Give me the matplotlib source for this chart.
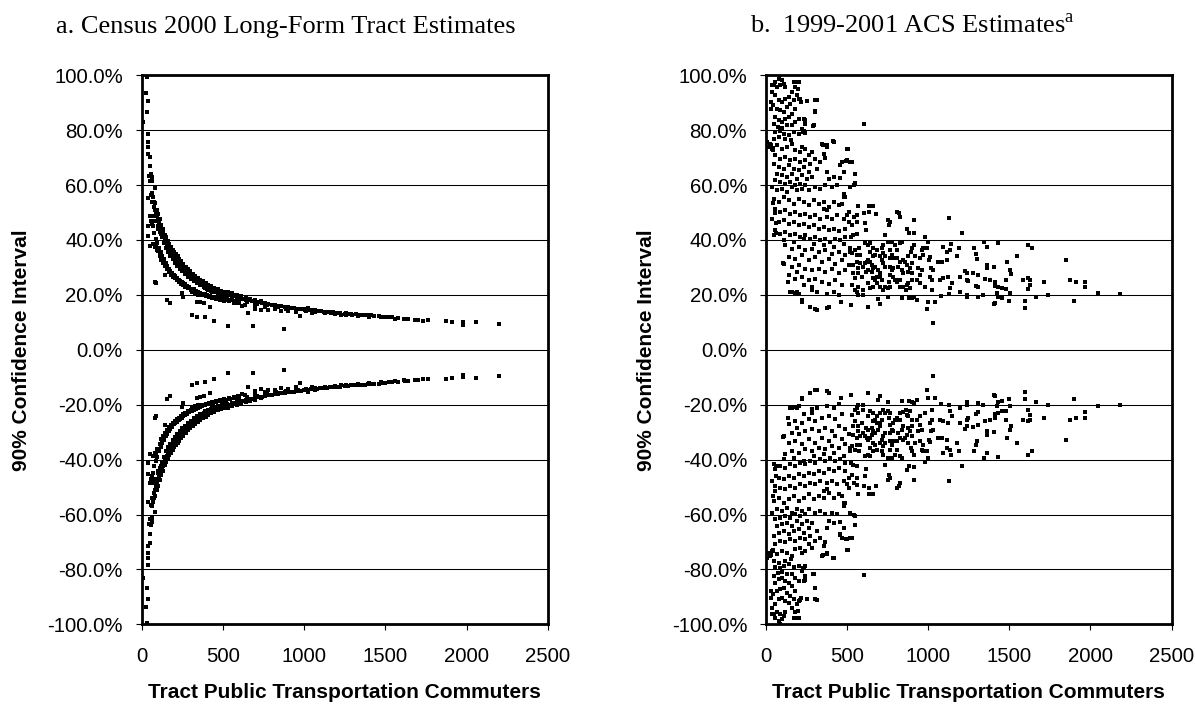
import numpy as np
import matplotlib
matplotlib.use('Agg')
import matplotlib.pyplot as plt
from matplotlib.ticker import FuncFormatter, MultipleLocator

matplotlib.rc('font', family='Liberation Sans')
matplotlib.rc('mathtext', fontset='custom', rm='Liberation Serif')

# (tract commuters, half-width of 90% CI in %) -- both panels are symmetric about 0
census_pts = [
    (32, 99.5), (28, 93.7), (38, 90.8), (36, 86.7), (11, 83.1), (38, 78.5), (42, 75.7), (42, 73.9),
    (42, 71.4), (50, 70.4), (54, 67), (46, 63.4), (56, 64), (62, 62.8), (50, 61.6), (62, 61.4),
    (38, 55.4), (60, 56.4), (80, 59), (62, 54), (83, 53.4), (78, 52.2), (93, 51), (52, 48.6),
    (73, 48.6), (93, 48.6), (83, 46.9), (99, 47.4), (42, 45.2), (62, 45.8), (103, 45), (113, 44),
    (119, 43.5), (123, 42.3), (134, 41.1), (38, 41.3), (73, 38.7), (83, 37.5), (52, 37.8), (144, 40),
    (154, 38.7), (165, 37.5), (175, 36.3), (93, 36.3), (113, 34.4), (185, 34.4), (206, 33.2), (226, 32),
    (123, 32.6), (144, 30.8), (165, 29.6), (83, 24.8), (89, 24.2), (247, 30.3), (267, 29.1), (288, 27.9),
    (185, 27.9), (206, 26.7), (226, 25.5), (144, 27.3), (308, 26.7), (329, 25.5), (349, 24.2), (370, 23.7),
    (247, 24.2), (267, 23), (288, 22.4), (154, 18.1), (175, 16.9), (390, 22.4), (410, 21.8), (431, 21.2),
    (308, 21.2), (329, 20.6), (349, 20), (247, 20.8), (257, 19.4), (451, 21.2), (472, 20.6), (492, 20.6),
    (513, 20), (533, 21.2), (554, 20.6), (339, 17.5), (359, 17.3), (386, 16.9), (421, 15.7), (308, 12.7),
    (339, 12.1), (390, 11.8), (447, 10.6), (533, 8.5), (687, 8.5), (878, 7.5), (574, 19.5), (615, 18.9),
    (656, 18.3), (697, 18.3), (738, 17.7), (574, 17.7), (636, 16.5), (656, 13.4), (697, 16.5), (759, 16.9),
    (800, 16.3), (841, 15.7), (882, 15.5), (923, 15.2), (964, 14.8), (1005, 14.6), (1066, 14.6), (1107, 14),
    (1168, 13.4), (1230, 12.8), (1292, 12.8), (779, 14.6), (738, 14.4), (861, 14), (974, 12.2), (1025, 15.2),
    (1258, 13.3), (1376, 12.7), (1495, 12.1), (1613, 11.1), (1731, 10.6), (1874, 10.6), (1909, 10.3),
    (1980, 10.0), (1980, 9.2), (2058, 10.3), (2200, 9.5),
    (65, 57), (70, 55.5), (75, 54), (85, 51), (90, 50), (95, 49), (105, 47), (110, 46), (115, 45),
    (125, 43), (130, 42.5), (135, 41.5), (145, 40), (150, 39.5), (155, 39), (165, 38), (170, 37),
    (175, 37), (185, 35.5), (190, 35), (195, 34.5), (205, 33.5), (210, 33), (215, 33), (220, 32.5),
    (235, 31.5), (240, 31), (250, 30.5), (255, 30), (265, 29.5), (270, 29), (280, 28.5), (290, 28),
    (295, 27.8), (305, 27.2), (315, 26.8), (325, 26.2), (335, 25.8), (345, 25.3), (355, 24.8), (365, 24.4),
    (375, 24), (385, 23.7), (395, 23.3), (405, 23), (415, 22.6), (425, 22.4), (435, 22.1), (445, 21.9),
    (460, 21.5), (475, 21.2), (490, 20.9), (505, 20.7), (520, 20.4), (540, 20.1), (560, 19.8), (580, 19.5),
    (595, 19.3),
    (60, 47), (70, 45), (78, 42.5), (88, 40.5), (98, 39), (108, 37), (118, 35.5), (128, 34), (138, 33),
    (148, 31.5), (158, 30.5), (168, 29.5), (178, 28.8), (188, 28), (198, 27.2), (208, 26.8), (218, 26.2),
    (228, 25.6), (238, 25.2), (248, 24.8), (258, 24.2), (270, 23.8), (282, 23.3), (295, 22.8), (310, 22.3),
    (322, 22), (335, 21.5), (348, 21.1), (360, 20.8), (375, 20.5), (390, 20.2), (405, 19.9), (420, 19.6),
    (440, 19.3), (460, 19), (480, 18.8), (500, 18.5), (520, 18.3), (545, 18), (570, 17.7), (600, 17.5),
    (620, 18.6), (640, 18.3), (660, 18), (680, 17.8), (700, 17.5), (720, 17.3), (740, 17.1), (760, 16.8),
    (780, 16.6), (800, 16.4), (820, 16.2), (840, 16), (860, 15.8), (880, 15.7), (900, 15.5), (920, 15.4),
    (940, 15.2), (960, 15), (980, 14.9), (1000, 14.7), (1020, 14.5), (1040, 14.4), (1060, 14.3), (1080, 14.1),
    (1100, 14), (1120, 13.9), (1140, 13.8), (1160, 13.7), (1180, 13.6), (1200, 13.5), (1220, 13.4),
    (1250, 13.2), (1270, 13.1), (1290, 13), (1320, 12.9), (1340, 12.8), (1360, 12.7), (1390, 12.6),
    (1410, 12.5), (1430, 12.4), (1460, 12.3), (1480, 12.1), (1520, 11.9), (1540, 11.8), (1580, 11.6),
    (1620, 11.4), (1640, 11.3), (1700, 11), (1760, 10.8),
    (620, 16), (700, 15), (760, 15.5), (820, 14.8), (900, 14.2), (950, 13.6), (1050, 13.5),
    (100, 49.5), (112, 47.5), (122, 45.5), (132, 44), (142, 42), (152, 41), (162, 39.5), (172, 38.5),
    (182, 37.5), (192, 36.5), (202, 35.5), (212, 34.8), (222, 34), (232, 33.2), (245, 32.3), (258, 31.3),
    (272, 30.2), (285, 29.3), (300, 28.6), (318, 27.6), (332, 27), (346, 26.3), (362, 25.6), (378, 25),
    (395, 24.3), (412, 23.7), (430, 23.1), (448, 22.6), (468, 22), (488, 21.5), (510, 21.2), (530, 20.8),
    (555, 20.4), (585, 20), (610, 19.5), (640, 19.1), (670, 18.6),
    (104, 44), (114, 43), (126, 41), (138, 39), (152, 37), (164, 35.5), (178, 34.2), (192, 33),
    (206, 31.8), (220, 30.6), (236, 29.6), (252, 28.6), (268, 27.6), (286, 26.6), (304, 25.8), (322, 25),
    (342, 24.2), (362, 23.5), (384, 22.9), (404, 22.2), (426, 21.6), (450, 21), (474, 20.5), (498, 20),
    (526, 19.6), (556, 19.2), (588, 18.8),
    (92, 37.5), (102, 36), (112, 34.3), (124, 33), (134, 31.5), (146, 30.4), (156, 29.3), (168, 28.3),
    (180, 27.4), (192, 26.7), (204, 26), (216, 25.3), (230, 24.7), (244, 24.1), (256, 23.5), (272, 22.9),
    (288, 22.4), (304, 21.8), (320, 21.3), (338, 20.8), (356, 20.4), (374, 20), (394, 19.6), (414, 19.3),
    (436, 18.9), (458, 18.5), (482, 18.2), (508, 17.9), (536, 17.6), (566, 17.2), (596, 16.9),
    (650, 17.3), (710, 16.8), (770, 16.2), (830, 15.5), (890, 15), (950, 14.6), (1010, 14.2), (1070, 13.8),
    (1130, 13.4), (1190, 13.1), (1260, 12.7), (1330, 12.4), (1400, 12.1), (1470, 11.8), (1560, 11.4),
    (1680, 10.9),
]

acs_pts = [
    (88, 100), (78, 98.8), (99, 98.2), (57, 97.6), (47, 96.3), (68, 95.7), (88, 96.3), (109, 97), (119, 95.7),
    (171, 97.6), (181, 95.7), (197, 95.1), (191, 92.7), (160, 93.9), (140, 92.1), (119, 91.5), (99, 90.3),
    (78, 90.9), (57, 92.7), (37, 93.9), (33, 90.3), (41, 89.1), (68, 87.8), (88, 87.2), (109, 86.6),
    (129, 88.5), (150, 89.7), (171, 90.9), (201, 91.5), (218, 90.3), (181, 87.8), (160, 86), (140, 84.8),
    (119, 84.2), (99, 83), (78, 83.6), (57, 84.8), (47, 82.4), (74, 81.2), (99, 80.8), (129, 81.8),
    (160, 81.8), (181, 83), (201, 84.2), (232, 84.2), (242, 82.4), (222, 80.6), (304, 90.9), (304, 86.9),
    (294, 81.8), (57, 79.3), (88, 79.6), (109, 78.7), (140, 78.1), (171, 79.3), (201, 78.7), (232, 79.6),
    (78, 77.5), (119, 76.9), (156, 76.3), (47, 76.9),
    (16, 73.9), (37, 73.3), (6, 75.7), (27, 75.1), (68, 74.5), (99, 73.3), (129, 73.9), (160, 75.1),
    (181, 72.7), (212, 72.1), (222, 73.9), (242, 73.3), (263, 70.9), (283, 72.1), (345, 75.1), (376, 73.9),
    (417, 75.7), (505, 73.0), (355, 71.5), (304, 69.6), (335, 68.4), (314, 66), (468, 68.4), (499, 69),
    (520, 68.4), (458, 67.2), (57, 70.9), (88, 69.6), (119, 70.2), (150, 69), (181, 69.6), (212, 68.4),
    (242, 69), (273, 67.8), (47, 67.8), (78, 66.6), (109, 66), (140, 67.2), (171, 66), (201, 65.4),
    (232, 66.6), (263, 64.8), (68, 64.2), (99, 63.6), (129, 63), (160, 64.2), (191, 62.4), (222, 63.6),
    (253, 62.4), (283, 63), (57, 61.7), (88, 61.1), (119, 60.5), (150, 61.1), (181, 59.9), (212, 60.5),
    (242, 59.9), (386, 62.4), (417, 63), (458, 62.6), (479, 64.8), (363, 69.9), (376, 64.8),
    (37, 59.3), (68, 58.1), (99, 58.7), (129, 57.5), (160, 59.3), (191, 58.1), (222, 58.7), (263, 58.1),
    (304, 59.3), (335, 58.7), (366, 59.9), (407, 59.3), (437, 59.9), (479, 56.9), (489, 55.7),
    (47, 55.1), (78, 53.9), (109, 55.7), (140, 54.5), (171, 53.2), (201, 55.1), (232, 53.9), (263, 52.6),
    (294, 54.5), (325, 53.2), (355, 53.9), (386, 52), (417, 53.9), (355, 51.4), (376, 50.8), (448, 52.6),
    (468, 53.2), (510, 50.2), (57, 51.4), (88, 50.2), (119, 50.8), (150, 49.6), (181, 50.2), (212, 49),
    (242, 49.6), (273, 48.4), (304, 49), (335, 47.8), (376, 48.4), (407, 47.8), (437, 49), (479, 47.8),
    (499, 49), (37, 47.8), (78, 46.6), (109, 47.2), (140, 45.9), (171, 46.6), (201, 45.3), (232, 45.9),
    (263, 44.7), (294, 45.3), (325, 44.1), (355, 44.7), (386, 43.5), (417, 44.1), (448, 43.2), (489, 44.1),
    (514, 46.6), (57, 43.5), (88, 42.3), (119, 42.9), (150, 41.7), (181, 42.3), (212, 41.1), (242, 41.7),
    (273, 40.5), (304, 41.1), (335, 39.9), (366, 40.5), (396, 39.3), (427, 40.5), (458, 39.9), (489, 41.1),
    (47, 41.7), (109, 39.9), (171, 39.3), (232, 40.5), (294, 38.7), (355, 38.1), (417, 37.5), (479, 38.7),
    (119, 38.1), (160, 36.9), (201, 37.5), (242, 36.3), (283, 36.9), (325, 35.6), (366, 36.3), (407, 35),
    (448, 35.6), (489, 34.4), (520, 35.6), (140, 33.8), (181, 33.2), (222, 34.4), (263, 32.6), (304, 33.8),
    (345, 32), (386, 33.2), (427, 31.4), (468, 32.6), (509, 30.8), (109, 31.4), (160, 30.2), (201, 30.8),
    (242, 29.6), (283, 29), (325, 29.6), (366, 28.4), (407, 29.6), (448, 27.8), (489, 29), (191, 28.4),
    (140, 27.2), (181, 25.9), (222, 26.5), (263, 25.3), (304, 25.9), (345, 24.7), (386, 24.1), (427, 25.3),
    (468, 23.5), (232, 23.5), (283, 22.9), (150, 21.1), (181, 20.8), (201, 20.5), (283, 21.7), (314, 21.1),
    (376, 20.5), (417, 21.1), (448, 19.9), (222, 17.4), (273, 15.6), (304, 14.8), (386, 15.6), (464, 17.4),
    (103, 31.7), (138, 24.8), (158, 21.2), (189, 21.2), (220, 18.1), (271, 15.7), (312, 14.5), (378, 15.1),
    (45, 53.3), (55, 49.7), (61, 46.1), (61, 42.4), (45, 73.4), (29, 74.6), (41, 72.8), (29, 87.9),
    (35, 96.4), (312, 91), (302, 86.7), (292, 81.5), (240, 83.7), (230, 79.4), (240, 78.8), (210, 91.2),
    (214, 90.4), (205, 97.7), (185, 97.7), (411, 76), (378, 74.5), (353, 74.6), (501, 73), (456, 67.3),
    (493, 68.9), (528, 68.5), (549, 64), (543, 60), (481, 55.8), (604, 82.1), (253, 90.8),
    (1130, 47.9), (1206, 42.4), (1346, 39.4), (1360, 37.6), (1432, 39.0), (1617, 38.2), (1638, 37.0),
    (1550, 34), (1484, 32.1), (1850, 32.7), (1365, 30.9), (1365, 29.7), (1406, 30.1), (1504, 29.1),
    (1508, 27.6), (1278, 28.1), (1309, 27.3), (1227, 28.8), (1237, 27.9), (1196, 26.6), (1241, 25.4),
    (1247, 24.9), (1350, 25.8), (1381, 25.4), (1412, 24.8), (1478, 25.4), (1587, 25.4), (1617, 26.0),
    (1628, 25.4), (1716, 24.8), (1874, 25.4), (1909, 24.8), (1967, 24.8), (1967, 22.8), (1628, 23.6),
    (1617, 22.0), (1412, 23.3), (1432, 23.0), (1453, 22.4), (1480, 22.2), (1422, 20.6), (1504, 20.6),
    (1295, 23.3), (1309, 22.8), (1196, 21.2), (1237, 20.0), (1241, 19.1), (1309, 19.4), (1336, 20),
    (1432, 19.1), (1453, 18.8), (1412, 17), (1406, 16.6), (1500, 17.9), (1597, 17.9), (1597, 15.4),
    (1665, 19.1), (1741, 20.1), (1899, 17.8), (2049, 20.6), (2183, 20.2), (1032, 9.7), (991, 14.8),
    (1001, 17.5), (1042, 17.5), (1077, 19.6), (1130, 20.2), (1135, 22.4), (1145, 24.2), (1073, 25.4),
    (1093, 26.0), (1124, 26.6), (1063, 32.1), (1083, 32.1), (1114, 32.7), (1089, 37.6), (1114, 35.8),
    (1135, 36.4), (1141, 38.4), (1180, 34), (1192, 37), (1282, 37), (1295, 34.8), (1299, 33.1), (997, 39.4),
    (980, 41), (982, 37), (995, 37), (1011, 33.7), (1007, 32.7), (1015, 29.7), (1028, 29.1), (1011, 26.6),
    (1021, 25.4), (980, 23), (1021, 21.8), (915, 47.3), (871, 43.9), (884, 42.4), (913, 42.7), (826, 48.5),
    (806, 50.3), (822, 49.7), (765, 46.7), (760, 45.5), (754, 47.3), (734, 41.8), (913, 38.2), (898, 37),
    (892, 35.8), (878, 34), (950, 33.3), (970, 34.5), (960, 36.4), (966, 37), (939, 29.7), (960, 29.1),
    (950, 27.3), (929, 25.4), (950, 24.2), (919, 34), (898, 31.5), (888, 29.7), (878, 28.5), (898, 27.9),
    (867, 31), (857, 32.1), (847, 32.7), (837, 29.1), (847, 27.9), (826, 25.4), (826, 23), (847, 22.8),
    (863, 21.8), (867, 23.6), (878, 24.2), (888, 22.4), (898, 25.4), (884, 18.8), (898, 19), (913, 19.4),
    (929, 18.2), (837, 18.8), (806, 24.8), (795, 25.4), (816, 25.4), (765, 23), (754, 22.4), (734, 23),
    (760, 24.8), (785, 26.6), (765, 27.3), (775, 29.1), (785, 29.7), (765, 30.3), (816, 30.3), (826, 32.1),
    (806, 33.3), (785, 33.3), (765, 33.3), (775, 34.5), (806, 36.4), (795, 38.2), (775, 39.4), (765, 36.4),
    (754, 39.4), (826, 38.8), (837, 39.4), (754, 19.1), (703, 16.7), (693, 18.4), (631, 15.7), (723, 21.8),
    (703, 23), (682, 24.2), (672, 25.4), (662, 26.0), (658, 23), (631, 24.2), (641, 22.4), (713, 25.4),
    (703, 26.6), (703, 27.9), (693, 29.1), (682, 26.6), (723, 31.5), (713, 32.7), (703, 34), (723, 35.2),
    (713, 37), (723, 38.2), (734, 34), (734, 30.3), (672, 30.3), (662, 29.7), (652, 30.9), (641, 32.1),
    (631, 32.7), (621, 32.1), (610, 31.5), (600, 30.3), (631, 29.1), (652, 28.5), (617, 28.5), (662, 34),
    (672, 34.5), (641, 35.8), (658, 37), (682, 36.4), (631, 38.2), (610, 38.8), (641, 38.8), (610, 46.1),
    (617, 43.6), (569, 52.4), (637, 52.4), (658, 52.4), (637, 50.3), (678, 49.5), (604, 49.7), (559, 49.1),
    (543, 48.5), (528, 45.5), (563, 46.7), (559, 42.2), (539, 41.8), (524, 41.2), (518, 37), (549, 36.4),
    (576, 37), (580, 34.5), (559, 34.5), (528, 35.2), (534, 30.9), (559, 32.1), (580, 31.5), (569, 29.7),
    (539, 27.9), (569, 27.9), (590, 26.6), (549, 26.0), (528, 23.6), (569, 23), (596, 21.8), (559, 21.2),
    (522, 16.3), (569, 20), (600, 20), (549, 21.8), (518, 59.4), (549, 60.6),
]

titles = ['a. Census 2000 Long-Form Tract Estimates', 'b.  1999-2001 ACS Estimates$^{\\mathrm{a}}$']
xlabel = 'Tract Public Transportation Commuters'
ylabel = '90% Confidence Interval'

W, H = 1195, 704
fig = plt.figure(figsize=(W / 100, H / 100), dpi=100)
bottom = 1 - 624.3 / H
height = 549 / H
ax1 = fig.add_axes([141.5 / W, bottom, 406.5 / W, height])
ax2 = fig.add_axes([766 / W, bottom, 405.5 / W, height])

for ax, pts in [(ax1, census_pts), (ax2, acs_pts)]:
    pts = np.array(pts, dtype=float)
    x, moe = pts[:, 0], pts[:, 1]
    ax.plot(x, moe, 's', color='black', ms=2.3, mew=0, zorder=3)
    ax.plot(x, -moe, 's', color='black', ms=2.3, mew=0, zorder=3)

    ax.set_xlim(0, 2500)
    ax.set_ylim(-100, 100)
    ax.xaxis.set_major_locator(MultipleLocator(500))
    ax.yaxis.set_major_locator(MultipleLocator(20))
    ax.yaxis.set_major_formatter(FuncFormatter(lambda v, p: '%.1f%%' % v))
    ax.grid(axis='y', color='black', lw=0.75, zorder=1)
    ax.set_axisbelow(True)
    for s in ax.spines.values():
        s.set_linewidth(2.0)
    ax.tick_params(direction='out', length=4.5, width=0.8, labelsize=14.7)
    ax.tick_params(axis='y', pad=9)
    ax.tick_params(axis='x', pad=12)
    ax.set_xlabel(xlabel, fontsize=15, fontweight='bold', labelpad=12)
    ax.set_ylabel(ylabel, fontsize=15, fontweight='bold')
    ax.yaxis.set_label_coords(-0.272, 0.5)

fig.text(56 / W, 1 - 33 / H, titles[0], family='Liberation Serif', fontsize=19, va='baseline')
fig.text(750 / W, 1 - 33 / H, titles[1], family='Liberation Serif', fontsize=19, va='baseline')

fig.savefig('out.png', dpi=100)
